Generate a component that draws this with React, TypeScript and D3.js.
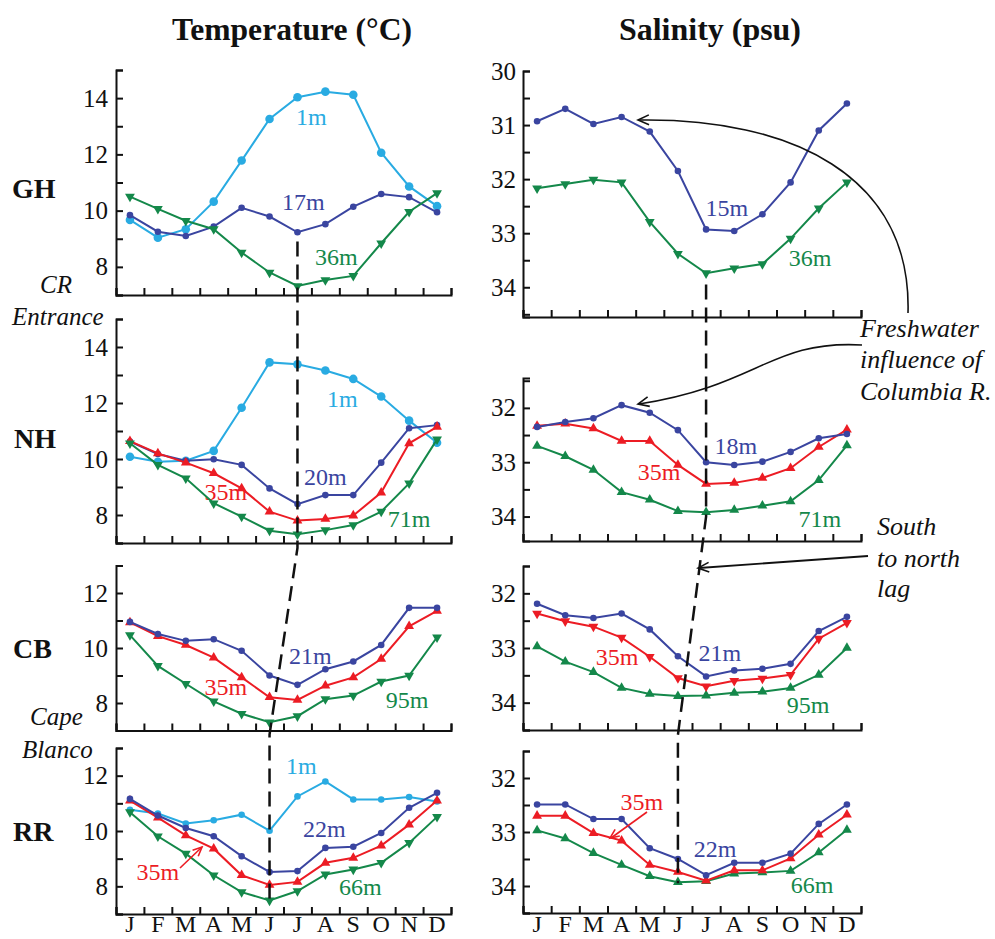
import React, { useEffect, useRef } from "react";
import * as d3 from "d3";

const months = ["J", "F", "M", "A", "M", "J", "J", "A", "S", "O", "N", "D"];

// GH (Grays Harbor)
const ghTemp1m = [9.67, 9.04, 9.34, 10.32, 11.78, 13.26, 14.03, 14.23, 14.12, 12.06, 10.86, 10.16];
const ghTemp17m = [9.84, 9.25, 9.1, 9.43, 10.1, 9.79, 9.23, 9.52, 10.14, 10.59, 10.48, 9.94];
const ghTemp36m = [10.5, 10.06, 9.64, 9.34, 8.51, 7.8, 7.32, 7.53, 7.68, 8.84, 9.96, 10.62];
const ghSal15m = [30.93, 30.7, 30.98, 30.85, 31.12, 31.85, 32.93, 32.96, 32.65, 32.06, 31.1, 30.6];
const ghSal36m = [32.17, 32.09, 32.01, 32.06, 32.79, 33.38, 33.74, 33.65, 33.57, 33.1, 32.54, 32.06];

// NH (Newport)
const nhTemp1m = [10.08, 9.9, 9.94, 10.29, 11.83, 13.45, 13.38, 13.16, 12.86, 12.23, 11.37, 10.58];
const nhTemp20m = [10.62, 10.18, 9.94, 9.99, 9.79, 8.95, 8.39, 8.71, 8.71, 9.87, 11.1, 11.21];
const nhTemp35m = [10.64, 10.2, 9.87, 9.49, 8.95, 8.12, 7.8, 7.86, 7.98, 8.8, 10.56, 11.15];
const nhTemp71m = [10.56, 9.79, 9.31, 8.42, 7.94, 7.44, 7.31, 7.46, 7.64, 8.12, 9.13, 10.7];
const nhSal18m = [32.35, 32.26, 32.19, 31.95, 32.09, 32.41, 33.0, 33.05, 32.99, 32.81, 32.56, 32.48];
const nhSal35m = [32.33, 32.29, 32.38, 32.61, 32.61, 33.05, 33.4, 33.38, 33.29, 33.11, 32.72, 32.4];
const nhSal71m = [32.7, 32.89, 33.14, 33.55, 33.69, 33.9, 33.92, 33.88, 33.8, 33.72, 33.33, 32.69];

// CB (Coos Bay)
const cbTemp21m = [10.95, 10.51, 10.26, 10.32, 9.9, 9.0, 8.66, 9.23, 9.51, 10.11, 11.46, 11.46];
const cbTemp35m = [10.93, 10.43, 10.11, 9.65, 8.93, 8.21, 8.11, 8.63, 8.93, 9.6, 10.79, 11.35];
const cbTemp95m = [10.47, 9.35, 8.7, 8.06, 7.61, 7.3, 7.52, 8.14, 8.27, 8.78, 9.0, 10.39];
const cbSal21m = [32.19, 32.4, 32.45, 32.37, 32.66, 33.15, 33.52, 33.41, 33.38, 33.29, 32.69, 32.43];
const cbSal35m = [32.37, 32.51, 32.61, 32.81, 33.16, 33.55, 33.7, 33.6, 33.56, 33.49, 32.83, 32.54];
const cbSal95m = [32.97, 33.25, 33.44, 33.73, 33.84, 33.88, 33.87, 33.82, 33.8, 33.73, 33.49, 33.0];

// RR (Rogue River)
const rrTemp1m = [10.77, 10.63, 10.27, 10.39, 10.59, 10.01, 11.25, 11.79, 11.14, 11.14, 11.23, 11.07];
const rrTemp22m = [11.16, 10.56, 10.11, 9.81, 9.09, 8.52, 8.55, 9.39, 9.43, 9.93, 10.84, 11.38];
const rrTemp35m = [11.1, 10.48, 9.84, 9.36, 8.4, 8.05, 8.16, 8.85, 9.03, 9.47, 10.23, 11.1];
const rrTemp66m = [10.68, 9.81, 9.18, 8.4, 7.79, 7.49, 7.83, 8.43, 8.61, 8.85, 9.57, 10.51];
const rrSal22m = [32.49, 32.49, 32.76, 32.76, 33.3, 33.5, 33.8, 33.57, 33.57, 33.4, 32.85, 32.49];
const rrSal35m = [32.7, 32.7, 33.02, 33.16, 33.61, 33.74, 33.9, 33.71, 33.71, 33.49, 33.05, 32.68];
const rrSal66m = [32.97, 33.12, 33.39, 33.61, 33.82, 33.93, 33.91, 33.77, 33.75, 33.72, 33.38, 32.96];

const LIGHT = "#29abe2";
const BLUE = "#3a45a0";
const RED = "#ec1c24";
const GREEN = "#14884a";
const FONT = "'Liberation Serif', 'Times New Roman', serif";

// label: [month position, value]
const panels = [
  { col: "T", dom: [7, 15], rng: [295, 70], series: [
    { v: ghTemp1m, c: LIGHT, m: "big", name: "1m", at: [6.5, 13.33] },
    { v: ghTemp17m, c: BLUE, m: "dot", name: "17m", at: [6.21, 10.31] },
    { v: ghTemp36m, c: GREEN, m: "down", name: "36m", at: [7.39, 8.35] }] },
  { col: "S", dom: [30, 34.55], rng: [71, 317], series: [
    { v: ghSal15m, c: BLUE, m: "dot", name: "15m", at: [6.74, 32.52] },
    { v: ghSal36m, c: GREEN, m: "down", name: "36m", at: [9.69, 33.46] }] },
  { col: "T", dom: [7, 15], rng: [543, 319], series: [
    { v: nhTemp1m, c: LIGHT, m: "big", name: "1m", at: [7.61, 12.14] },
    { v: nhTemp20m, c: BLUE, m: "dot", name: "20m", at: [7.0, 9.36] },
    { v: nhTemp35m, c: RED, m: "up", name: "35m", at: [3.43, 8.82] },
    { v: nhTemp71m, c: GREEN, m: "down", name: "71m", at: [10.0, 7.86] }] },
  { col: "S", dom: [31.45, 34.45], rng: [378, 541], series: [
    { v: nhSal71m, c: GREEN, m: "up", name: "71m", at: [10.04, 34.03] },
    { v: nhSal35m, c: RED, m: "up", name: "35m", at: [4.33, 33.18] },
    { v: nhSal18m, c: BLUE, m: "dot", name: "18m", at: [7.06, 32.7] }] },
  { col: "T", dom: [7, 13], rng: [730.5, 565.5], series: [
    { v: cbTemp95m, c: GREEN, m: "down", name: "95m", at: [9.93, 8.11] },
    { v: cbTemp35m, c: RED, m: "up", name: "35m", at: [3.43, 8.58] },
    { v: cbTemp21m, c: BLUE, m: "dot", name: "21m", at: [6.46, 9.71] }] },
  { col: "S", dom: [31.5, 34.5], rng: [566, 730], series: [
    { v: cbSal95m, c: GREEN, m: "up", name: "95m", at: [9.62, 34.04] },
    { v: cbSal35m, c: RED, m: "down", name: "35m", at: [2.84, 33.16] },
    { v: cbSal21m, c: BLUE, m: "dot", name: "21m", at: [6.49, 33.09] }] },
  { col: "T", dom: [7, 13], rng: [914, 748], series: [
    { v: rrTemp1m, c: LIGHT, m: "dot", name: "1m", at: [6.14, 12.35] },
    { v: rrTemp66m, c: GREEN, m: "down", name: "66m", at: [8.25, 7.98] },
    { v: rrTemp35m, c: RED, m: "up", name: "35m", at: [1.0, 8.52] },
    { v: rrTemp22m, c: BLUE, m: "dot", name: "22m", at: [6.96, 10.07] }] },
  { col: "S", dom: [31.5, 34.5], rng: [751, 913], series: [
    { v: rrSal66m, c: GREEN, m: "up", name: "66m", at: [9.76, 33.98] },
    { v: rrSal35m, c: RED, m: "up", name: "35m", at: [3.72, 32.43] },
    { v: rrSal22m, c: BLUE, m: "dot", name: "22m", at: [6.32, 33.3] }] },
];

function arrowHead(g, tip, from, color, len = 12) {
  const ang = Math.atan2(tip[1] - from[1], tip[0] - from[0]);
  const a1 = ang + Math.PI - 0.42, a2 = ang + Math.PI + 0.42;
  g.append("path")
    .attr("d", `M${tip[0] + len * Math.cos(a1)},${tip[1] + len * Math.sin(a1)}L${tip[0]},${tip[1]}L${tip[0] + len * Math.cos(a2)},${tip[1] + len * Math.sin(a2)}`)
    .attr("fill", "none").attr("stroke", color).attr("stroke-width", 1.6);
}

export default function App() {
  const ref = useRef(null);

  useEffect(() => {
    const svg = d3.select(ref.current);
    svg.selectAll("*").remove();

    const xT = d3.scaleLinear().domain([-0.5, 11.5]).range([116, 451]);
    const xS = d3.scaleLinear().domain([-0.5, 11.5]).range([523, 861]);
    const ys = [];

    panels.forEach((p, pi) => {
      const x = p.col === "T" ? xT : xS;
      const y = d3.scaleLinear().domain(p.dom).range(p.rng);
      ys.push(y);
      const step = p.col === "T" ? 1 : 0.5;
      const vals = d3.range(Math.ceil(p.dom[0] / step - 1e-6) * step, p.dom[1] + 1e-6, step);
      const g = svg.append("g");

      const yAxis = g.append("g")
        .attr("transform", `translate(${x.range()[0]},0)`)
        .call(d3.axisLeft(y).tickValues(vals).tickSize(-7).tickSizeOuter(-7).tickPadding(p.col === "T" ? 8 : 7)
          .tickFormat(v => {
            const isLab = p.col === "T" ? v % 2 === 0 : Math.abs(v - Math.round(v)) < 1e-6;
            return isLab ? d3.format("d")(v) : "";
          }));
      const xAxis = g.append("g")
        .attr("transform", `translate(0,${p.rng[p.col === "T" ? 0 : 1]})`)
        .call(d3.axisBottom(x).tickValues(d3.range(-0.5, 12, 1)).tickSize(-7).tickSizeOuter(-7).tickFormat(() => ""));
      [yAxis, xAxis].forEach(a => {
        a.selectAll("path,line").attr("stroke", "#111").attr("stroke-width", 2);
        a.selectAll("text").attr("font-family", FONT).attr("font-size", 25).attr("fill", "#111");
      });

      if (pi >= 6) {
        g.selectAll("text.month").data(months).enter().append("text")
          .attr("x", (d, i) => x(i)).attr("y", 932)
          .attr("text-anchor", "middle").attr("font-family", FONT).attr("font-size", 24).attr("fill", "#111")
          .text(d => d);
      }

      const line = d3.line().x((d, i) => x(i)).y(d => y(d));
      p.series.forEach(s => {
        g.append("path").attr("d", line(s.v)).attr("fill", "none").attr("stroke", s.c).attr("stroke-width", 2);
        const mk = g.append("g");
        s.v.forEach((d, i) => {
          if (s.m === "big" || s.m === "dot") {
            mk.append("circle").attr("cx", x(i)).attr("cy", y(d)).attr("r", s.m === "big" ? 4.3 : 3.3).attr("fill", s.c);
          } else {
            mk.append("path")
              .attr("d", d3.symbol(d3.symbolTriangle, 42)())
              .attr("transform", `translate(${x(i)},${y(d)}) rotate(${s.m === "down" ? 180 : 0})`)
              .attr("fill", s.c);
          }
        });
        g.append("text")
          .attr("x", x(s.at[0])).attr("y", y(s.at[1]))
          .attr("dy", "0.35em").attr("text-anchor", "middle")
          .attr("font-family", FONT).attr("font-size", 24).attr("fill", s.c)
          .text(s.name);
      });
    });

    // lag lines
    const dash = (pts) => svg.append("path").attr("d", d3.line()(pts))
      .attr("fill", "none").attr("stroke", "#111").attr("stroke-width", 2.5).attr("stroke-dasharray", "15,8");
    dash([[xT(6), ys[0](8.9)], [xT(6), ys[2].range()[0] + 5], [xT(5), ys[4].range()[0] + 4], [xT(5), ys[6](7.3)]]);
    dash([[xS(6), ys[1](33.95)], [xS(6), ys[3](34.0)], [xS(5), ys[5](34.5) + 5], [xS(5), ys[7](33.95)]]);

    // annotation arrows
    const ann = svg.append("g");
    ann.append("path").attr("d", "M908,313 C912,175 790,118 640,120").attr("fill", "none").attr("stroke", "#111").attr("stroke-width", 1.6);
    arrowHead(ann, [638, 120], [660, 119.5], "#111");
    ann.append("path").attr("d", "M862,345 C770,340 760,385 639,404").attr("fill", "none").attr("stroke", "#111").attr("stroke-width", 1.6);
    arrowHead(ann, [638, 404], [660, 399], "#111");
    ann.append("path").attr("d", "M868,556 L699,568").attr("fill", "none").attr("stroke", "#111").attr("stroke-width", 1.8);
    arrowHead(ann, [698, 568], [868, 556], "#111");
    ann.append("path").attr("d", "M180,868 L202,847").attr("stroke", RED).attr("stroke-width", 1.6);
    arrowHead(ann, [202, 847], [180, 868], RED, 10);
    ann.append("path").attr("d", "M647,812 L611,838").attr("stroke", RED).attr("stroke-width", 1.6);
    arrowHead(ann, [610, 838], [647, 812], RED, 10);

    // titles and labels
    const txt = (t, x, y, opts = {}) => svg.append("text").attr("x", x).attr("y", y)
      .attr("font-family", FONT).attr("font-size", opts.size || 25).attr("fill", "#111")
      .attr("font-weight", opts.bold ? "bold" : "normal").attr("font-style", opts.italic ? "italic" : "normal")
      .attr("text-anchor", opts.anchor || "start").text(t);
    txt("Temperature (°C)", 292, 40, { size: 32, bold: true, anchor: "middle" }).attr("textLength", 240).attr("lengthAdjust", "spacingAndGlyphs");
    txt("Salinity (psu)", 710, 40, { size: 32, bold: true, anchor: "middle" }).attr("textLength", 182).attr("lengthAdjust", "spacingAndGlyphs");
    txt("GH", 12, 198, { size: 28, bold: true });
    txt("NH", 14, 448, { size: 28, bold: true });
    txt("CB", 13, 658, { size: 28, bold: true });
    txt("RR", 13, 841, { size: 28, bold: true });
    txt("CR", 56, 293, { italic: true, anchor: "middle" });
    txt("Entrance", 12, 325, { italic: true });
    txt("Cape", 30, 725, { italic: true });
    txt("Blanco", 22, 758, { italic: true });
    txt("Freshwater", 860, 337, { italic: true, size: 26 });
    txt("influence of", 860, 368, { italic: true, size: 26 });
    txt("Columbia R.", 860, 400, { italic: true, size: 26 });
    txt("South", 877, 535, { italic: true, size: 26 });
    txt("to north", 877, 567, { italic: true, size: 26 });
    txt("lag", 877, 597, { italic: true, size: 26 });
  }, []);

  return (
    <svg ref={ref} width={995} height={939}
      style={{ position: "absolute", top: 0, left: 0, background: "#fff", display: "block" }} />
  );
}
